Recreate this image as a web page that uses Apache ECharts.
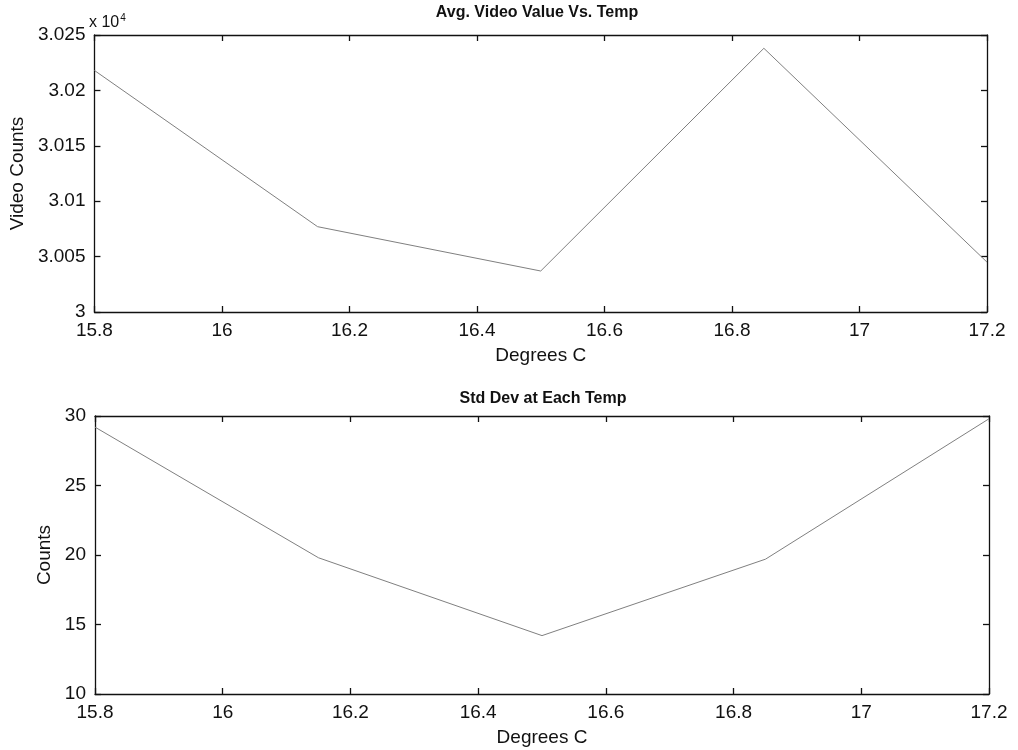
<!DOCTYPE html>
<html>
<head>
<meta charset="utf-8">
<title>Avg. Video Value Vs. Temp</title>
<script src="https://cdn.jsdelivr.net/npm/echarts@6/dist/echarts.min.js"></script>
<style>
    html, body { margin: 0; padding: 0; background: #ffffff; }
    #chart { width: 1018px; height: 750px; }
</style>
</head>
<body>
<div id="chart"></div>
<script>
// ============================================
// 数据
// ============================================
const temps = [15.8, 16.15, 16.5, 16.85, 17.2];
const avgVideo = [30218, 30077, 30037, 30238, 30045];
const stdDev = [29.2, 19.8, 14.2, 19.7, 29.8];

const titles = ['Avg. Video Value Vs. Temp', 'Std Dev at Each Temp'];

// ============================================
// 样式
// ============================================
const FONT = 'Liberation Sans, Arial, sans-serif';
const axisLineStyle = { color: '#111', width: 1.3 };

function bottomAxis(gridIndex) {
    return {
        type: 'value', gridIndex, min: 15.8, max: 17.2, interval: 0.2,
        name: 'Degrees C', nameLocation: 'middle', nameGap: 34,
        nameTextStyle: { fontFamily: FONT, fontSize: 19, color: '#111' },
        axisLine: { show: true, onZero: false, lineStyle: axisLineStyle },
        axisTick: { show: true, inside: true, length: 6, lineStyle: axisLineStyle },
        axisLabel: { fontFamily: FONT, fontSize: 19, color: '#111', margin: 9 },
        splitLine: { show: false }
    };
}

function topAxis(gridIndex) {
    return {
        type: 'value', gridIndex, position: 'top', min: 15.8, max: 17.2, interval: 0.2,
        axisLine: { show: true, onZero: false, lineStyle: axisLineStyle },
        axisTick: { show: true, inside: true, length: 6, lineStyle: axisLineStyle },
        axisLabel: { show: false },
        splitLine: { show: false }
    };
}

function rightAxis(gridIndex, min, max, interval) {
    return {
        type: 'value', gridIndex, position: 'right', min, max, interval,
        axisLine: { show: true, onZero: false, lineStyle: axisLineStyle },
        axisTick: { show: true, inside: true, length: 6, lineStyle: axisLineStyle },
        axisLabel: { show: false },
        splitLine: { show: false }
    };
}

const chart = echarts.init(document.getElementById('chart'));

const option = {
    backgroundColor: '#ffffff',
    animation: false,
    title: [
        {
            text: titles[0], left: 532, top: 0, textAlign: 'center',
            textStyle: { fontFamily: FONT, fontSize: 16, fontWeight: 'bold', color: '#111' }
        },
        {
            text: titles[1], left: 538, top: 386, textAlign: 'center',
            textStyle: { fontFamily: FONT, fontSize: 16, fontWeight: 'bold', color: '#111' }
        }
    ],
    graphic: [{
        type: 'text', left: 89, top: 13,
        style: {
            text: '{b|x 10}{s|4}',
            rich: {
                b: { fontFamily: FONT, fontSize: 16, fill: '#111' },
                s: { fontFamily: FONT, fontSize: 10, fill: '#111', verticalAlign: 'top', padding: [0, 0, 10, 1] }
            }
        }
    }],
    grid: [
        { left: 93, right: 31, top: 35, height: 277 },
        { left: 95, right: 29, top: 416, height: 278 }
    ],
    xAxis: [bottomAxis(0), topAxis(0), bottomAxis(1), topAxis(1)],
    yAxis: [
        {
            type: 'value', gridIndex: 0, min: 30000, max: 30250, interval: 50,
            name: 'Video Counts', nameLocation: 'middle', nameGap: 61,
            nameTextStyle: { fontFamily: FONT, fontSize: 19, color: '#111' },
            axisLine: { show: true, onZero: false, lineStyle: axisLineStyle },
            axisTick: { show: true, inside: true, length: 6, lineStyle: axisLineStyle },
            axisLabel: {
                fontFamily: FONT, fontSize: 19, color: '#111', margin: 9,
                formatter: v => String(+(v / 10000).toFixed(4))
            },
            splitLine: { show: false }
        },
        rightAxis(0, 30000, 30250, 50),
        {
            type: 'value', gridIndex: 1, min: 10, max: 30, interval: 5,
            name: 'Counts', nameLocation: 'middle', nameGap: 33,
            nameTextStyle: { fontFamily: FONT, fontSize: 19, color: '#111' },
            axisLine: { show: true, onZero: false, lineStyle: axisLineStyle },
            axisTick: { show: true, inside: true, length: 6, lineStyle: axisLineStyle },
            axisLabel: { fontFamily: FONT, fontSize: 19, color: '#111', margin: 9 },
            splitLine: { show: false }
        },
        rightAxis(1, 10, 30, 5)
    ],
    series: [
        {
            type: 'line', xAxisIndex: 0, yAxisIndex: 0,
            data: temps.map((t, i) => [t, avgVideo[i]]),
            showSymbol: false,
            lineStyle: { color: '#808080', width: 1 }
        },
        {
            type: 'line', xAxisIndex: 2, yAxisIndex: 2,
            data: temps.map((t, i) => [t, stdDev[i]]),
            showSymbol: false,
            lineStyle: { color: '#808080', width: 1 }
        }
    ]
};

chart.setOption(option);
</script>
</body>
</html>
